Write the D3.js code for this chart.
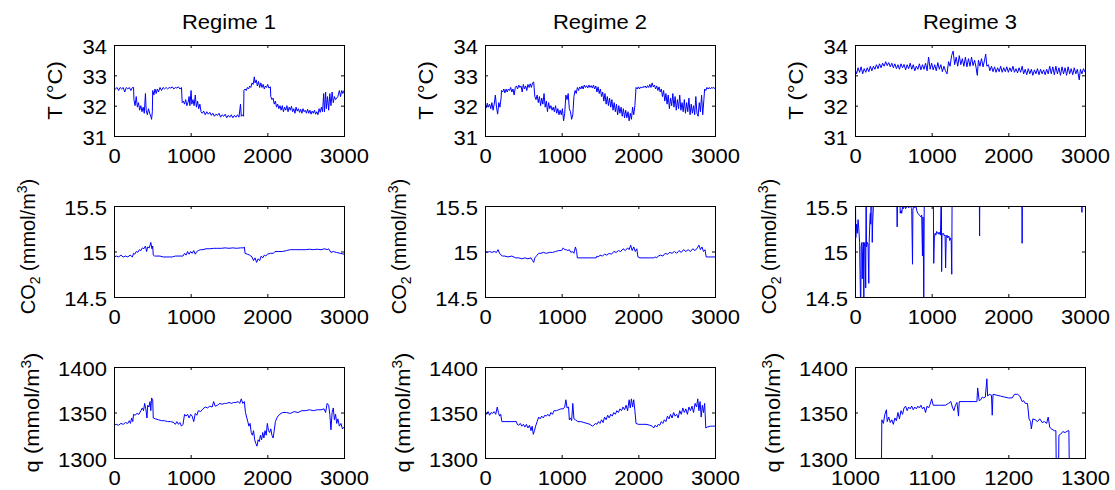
<!DOCTYPE html>
<meta charset="utf-8">
<style>
    body { margin: 0; background: #fff; }
    svg { font-family: "Liberation Sans", Arial, sans-serif; }
    .axis text { font-size: 20px; fill: #000; }
    .axis line { stroke: #000; }
    .axis path { display: none; }
    .frame { fill: none; stroke: #000; stroke-width: 1; }
    .trace { fill: none; stroke: #0000ff; stroke-width: 1; }
    .title { font-size: 20px; fill: #000; }
    .ylabel { font-size: 20px; fill: #000; }
</style>
<body>
<script src="https://cdnjs.cloudflare.com/ajax/libs/d3/7.8.5/d3.min.js"></script>
<script>

// ---- data: [sample index, value] ----
var titles = ["Regime 1", "Regime 2", "Regime 3"];

var tempR1 = [[0,32.6],[20,32.55],[40,32.6],[60,32.5],[80,32.6],[100,32.55],[120,32.6],[140,32.45],[160,32.6],[180,32.55],[200,32.6],[220,32.5],[240,32.6],[255,32.6],
    [260,32.2],[275,32.0],[290,32.3],[305,31.95],[320,32.1],[335,31.85],[350,32.0],[365,31.8],[380,31.95],[395,31.75],[410,32.4],[420,31.85],[435,31.7],[450,31.9],[465,31.75],[480,31.65],[490,31.55],[500,31.8],
    [505,32.5],[520,32.35],[535,32.55],[550,32.4],[565,32.55],[580,32.45],[600,32.6],[620,32.5],[640,32.6],[660,32.55],[680,32.6],[700,32.55],[720,32.6],[740,32.58],[760,32.62],[780,32.55],[800,32.6],[820,32.58],[840,32.62],[860,32.55],[880,32.6],
    [890,32.1],[905,32.15],[920,32.05],[935,32.2],[950,32.0],[965,32.1],[980,32.3],[990,32.0],[1005,32.5],[1015,32.05],[1030,32.2],[1045,32.0],[1060,32.35],[1075,31.95],[1090,32.15],[1105,31.9],[1120,32.05],[1135,31.8],
    [1150,31.75],[1170,31.82],[1190,31.7],[1210,31.8],[1230,31.72],[1250,31.78],[1270,31.68],[1290,31.75],[1310,31.65],[1330,31.72],[1350,31.68],[1370,31.75],[1390,31.62],[1410,31.7],[1430,31.65],[1450,31.72],[1470,31.6],[1490,31.68],[1510,31.62],[1530,31.7],[1550,31.6],[1570,31.68],[1590,31.62],[1610,31.7],[1630,31.62],[1650,32.05],[1660,31.65],[1675,31.7],[1690,31.65],
    [1695,32.5],[1710,32.55],[1725,32.5],[1740,32.6],[1755,32.55],[1770,32.65],[1785,32.6],[1800,32.75],[1815,32.7],[1830,32.95],[1840,32.75],[1855,32.85],[1870,32.65],[1885,32.8],[1900,32.6],[1915,32.75],[1930,32.6],[1945,32.7],[1960,32.55],[1975,32.65],[1990,32.6],[2005,32.7],[2020,32.58],[2040,32.62],
    [2045,32.3],[2060,32.2],[2075,32.25],[2090,32.05],[2105,32.15],[2120,31.95],[2135,32.05],[2150,31.9],[2165,32.0],[2180,31.85],[2195,32.0],[2210,31.8],[2225,31.95],[2240,31.85],[2255,32.0],[2270,31.8],[2285,31.95],[2300,31.85],[2315,31.98],[2330,31.8],[2345,31.9],[2360,31.75],[2375,31.95],[2390,31.82],[2405,31.9],[2420,31.78],[2435,31.88],[2450,31.75],[2465,31.9],[2480,31.8],[2495,31.85],[2510,31.75],[2525,31.88],[2540,31.75],[2555,31.85],[2570,31.72],[2585,31.82],[2600,31.75],[2615,31.85],[2630,31.72],[2645,31.8],[2660,31.7],[2675,31.9],[2690,31.78],
    [2705,31.95],[2720,31.8],[2735,32.4],[2745,31.8],[2760,32.45],[2770,31.9],[2785,32.3],[2800,31.85],[2815,32.4],[2830,32.0],[2845,32.45],[2860,32.1],[2875,32.3],[2890,32.2],[2905,32.25],[2920,32.3],[2940,32.5],[2955,32.3],[2970,32.5],[2985,32.4],[3000,32.5]];

var tempR2 = [[0,32.0],[15,31.92],[30,32.08],[45,31.95],[60,32.05],[75,31.9],[90,32.1],[105,31.85],[120,32.05],[135,32.35],[150,31.95],[165,31.72],[180,32.1],[195,31.95],[210,32.25],
    [215,32.5],[230,32.45],[245,32.55],[260,32.42],[275,32.55],[290,32.45],[305,32.55],[320,32.5],[335,32.6],[350,32.45],[365,32.55],[380,32.35],[395,32.6],[410,32.65],[425,32.55],[440,32.68],[455,32.6],[470,32.65],[485,32.45],[500,32.7],[515,32.55],[530,32.65],[545,32.5],[560,32.7],[575,32.6],[590,32.72],[605,32.6],[620,32.75],[635,32.78],
    [650,32.3],[665,32.2],[680,32.35],[695,32.1],[710,32.3],[725,32.0],[740,32.25],[755,32.05],[770,32.4],[785,31.95],[800,32.15],[815,31.8],[830,32.1],[845,31.9],[860,32.0],[875,31.85],[890,31.95],[905,31.8],[920,32.0],[935,31.75],[950,31.9],[965,31.7],[980,31.85],[995,31.7],[1010,31.9],[1025,31.5],[1040,31.75],
    [1055,32.35],[1070,32.2],[1085,32.4],[1100,31.9],[1115,31.8],[1130,31.55],[1145,31.7],[1160,32.3],[1175,32.5],[1190,32.4],[1205,32.6],[1220,32.5],[1235,32.62],[1250,32.55],[1265,32.65],[1280,32.55],[1295,32.68],[1310,32.6],[1325,32.66],[1340,32.58],[1355,32.68],[1370,32.6],[1385,32.66],[1400,32.58],[1415,32.68],[1430,32.55],[1445,32.65],
    [1460,32.45],[1475,32.62],[1490,32.4],[1505,32.55],[1520,32.3],[1535,32.45],[1550,32.15],[1565,32.4],[1580,32.05],[1595,32.3],[1610,32.0],[1625,32.25],[1640,31.95],[1655,32.2],[1670,31.85],[1685,32.1],[1700,31.8],[1715,32.05],[1730,31.7],[1745,32.0],[1760,31.75],[1775,31.95],[1790,31.65],[1805,31.9],[1820,31.6],[1835,31.85],[1850,31.6],[1865,31.8],[1880,31.5],[1895,31.75],[1910,31.55],[1925,31.95],[1940,31.7],[1955,32.0],
    [1970,32.6],[1985,32.55],[2000,32.62],[2015,32.55],[2030,32.62],[2045,32.58],[2060,32.63],[2075,32.6],[2090,32.65],[2105,32.58],[2120,32.66],[2135,32.6],[2150,32.7],[2165,32.6],[2180,32.75],[2195,32.62],[2210,32.68],[2225,32.55],[2240,32.65],[2255,32.5],[2270,32.62],[2285,32.45],[2300,32.55],
    [2315,32.3],[2330,32.5],[2345,32.15],[2360,32.4],[2375,32.05],[2390,32.35],[2405,31.9],[2420,32.25],[2435,32.0],[2450,32.4],[2465,31.95],[2480,32.3],[2495,31.85],[2510,32.2],[2525,31.9],[2540,32.35],[2555,31.85],[2570,32.1],[2585,31.8],[2600,32.2],[2615,31.75],[2630,32.1],[2645,31.8],[2660,32.25],[2675,31.7],[2690,32.05],[2705,31.75],[2720,32.0],[2735,31.7],[2750,32.3],[2765,31.75],[2780,31.65],[2795,32.1],[2810,31.8],[2825,32.35],[2840,31.7],[2855,32.2],
    [2865,32.55],[2880,32.5],[2895,32.6],[2910,32.55],[2925,32.6],[2940,32.55],[2955,32.6],[2970,32.58],[2985,32.6],[3000,32.55]];

var tempR3 = [[0,33.2],[20,33.05],[40,33.25],[60,33.1],[80,33.28],[100,33.05],[120,33.22],[140,33.1],[160,33.25],[180,33.12],[200,33.3],[220,33.15],[240,33.3],[260,33.2],[280,33.35],[300,33.22],[320,33.38],[340,33.25],[360,33.4],[380,33.3],[400,33.45],[420,33.32],[440,33.42],[460,33.28],[480,33.4],[500,33.25],
    [520,33.38],[540,33.22],[560,33.35],[580,33.2],[600,33.38],[620,33.25],[640,33.36],[660,33.18],[680,33.35],[700,33.22],[720,33.4],[740,33.2],[760,33.35],[780,33.15],[800,33.3],[820,33.2],[840,33.38],[860,33.18],[880,33.35],[900,33.2],[920,33.4],[940,33.15],[960,33.6],[980,33.2],[1000,33.4],
    [1020,33.18],[1040,33.35],[1060,33.15],[1080,33.42],[1100,33.2],[1120,33.35],[1140,33.12],[1160,33.3],[1180,33.15],[1200,33.05],[1220,33.45],[1240,33.3],[1260,33.65],[1280,33.8],[1300,33.35],[1320,33.6],[1340,33.3],[1360,33.65],[1380,33.35],[1400,33.55],[1420,33.3],[1440,33.6],[1460,33.28],[1480,33.55],[1500,33.3],
    [1520,33.6],[1540,33.32],[1560,33.5],[1580,33.25],[1595,33.0],[1610,33.5],[1630,33.3],[1650,33.55],[1670,33.28],[1690,33.5],[1705,33.7],[1720,33.3],[1740,33.35],[1760,33.15],[1780,33.3],[1800,33.12],[1820,33.28],[1840,33.1],[1860,33.25],[1880,33.12],[1900,33.3],[1920,33.1],[1940,33.25],[1960,33.12],[1980,33.28],
    [2000,33.1],[2020,33.25],[2040,33.12],[2060,33.3],[2080,33.1],[2100,33.22],[2120,33.08],[2140,33.25],[2160,33.1],[2180,33.3],[2200,33.05],[2220,33.2],[2240,33.02],[2260,33.22],[2280,33.05],[2300,33.2],[2320,33.0],[2340,33.18],[2360,33.05],[2380,33.22],[2400,33.02],[2420,33.2],[2440,33.05],[2460,33.18],[2480,33.02],
    [2500,33.2],[2520,33.05],[2540,33.3],[2560,33.05],[2580,33.28],[2600,33.02],[2620,33.3],[2640,33.05],[2660,33.25],[2680,33.0],[2700,33.28],[2720,33.05],[2740,33.25],[2760,33.0],[2780,33.28],[2800,33.05],[2820,33.22],[2840,33.02],[2860,33.25],[2880,33.05],[2900,33.2],[2925,32.85],[2940,33.2],[2960,33.05],[2980,33.22],[3000,33.1]];

var co2R1 = [[0,14.94],[30,14.95],[60,14.94],[90,14.96],[120,14.94],[150,14.95],[180,14.94],[210,14.96],[240,14.94],[255,14.98],[270,14.97],[290,15.0],[310,14.99],[330,15.02],[350,15.01],[370,15.04],[390,15.03],[410,15.06],[425,15.0],[440,15.05],[460,15.04],[480,15.1],[495,15.03],[505,15.06],[512,14.96],
    [530,14.95],[560,14.95],[600,14.95],[640,14.94],[680,14.94],[720,14.94],[760,14.94],[800,14.95],[850,14.95],[900,14.95],[920,14.98],[940,14.96],[960,15.0],[980,14.97],[1000,15.0],[1020,14.98],[1040,15.01],[1060,14.97],[1080,15.0],[1100,15.01],[1130,15.02],[1160,15.02],[1200,15.03],[1250,15.03],
    [1300,15.035],[1350,15.035],[1400,15.035],[1450,15.04],[1500,15.035],[1550,15.04],[1600,15.035],[1650,15.04],[1690,15.04],[1700,15.05],[1710,14.98],[1740,14.97],[1770,14.96],[1800,14.94],[1820,14.9],[1840,14.93],[1860,14.88],[1880,14.92],[1900,14.9],[1920,14.95],[1940,14.93],[1960,14.96],[1980,14.95],
    [2000,14.97],[2040,14.98],[2080,14.98],[2100,15.0],[2150,15.0],[2200,15.0],[2250,15.01],[2300,15.02],[2350,15.02],[2400,15.02],[2450,15.02],[2500,15.02],[2550,15.025],[2600,15.02],[2650,15.025],[2700,15.02],[2750,15.03],[2780,15.02],[2800,15.03],[2830,14.99],[2860,15.0],[2900,14.99],[2950,14.98],[3000,14.97]];

var co2R2 = [[0,15.0],[30,14.99],[60,15.0],[90,14.99],[120,15.0],[150,14.99],[170,15.02],[190,14.98],[210,14.96],[230,14.95],[260,14.95],[300,14.94],[350,14.95],[400,14.93],[440,14.93],[480,14.92],[520,14.93],[560,14.92],[600,14.93],[620,14.9],[635,14.88],[650,14.93],[680,14.96],[700,14.98],
    [730,14.98],[760,14.99],[800,14.98],[840,14.99],[880,14.99],[920,15.0],[960,15.01],[1000,15.01],[1020,15.04],[1040,15.02],[1060,15.02],[1080,15.01],[1100,15.02],[1120,14.99],[1140,15.0],[1160,14.98],[1180,15.05],[1195,15.0],[1205,14.93],
    [1280,14.93],[1330,14.93],[1380,14.93],[1420,14.93],[1450,14.93],[1460,14.95],[1480,14.94],[1500,14.96],[1530,14.95],[1560,14.97],[1590,14.96],[1620,14.98],[1650,14.97],[1680,15.0],[1710,14.99],[1740,15.01],[1770,15.0],[1800,15.03],[1830,15.01],[1860,15.04],[1880,15.02],[1900,15.07],[1920,15.01],[1940,15.05],[1960,15.0],[1980,15.03],
    [1995,14.94],[2020,14.93],[2060,14.93],[2100,14.93],[2150,14.93],[2200,14.93],[2220,14.94],[2240,14.93],[2260,14.95],[2290,14.96],[2320,14.95],[2350,14.98],[2380,14.97],[2410,14.99],[2440,14.98],[2470,15.0],[2500,14.98],[2530,15.01],[2560,14.99],[2590,15.02],[2620,15.0],[2650,15.02],[2680,15.0],[2710,15.03],[2740,15.01],[2770,15.04],[2790,15.07],[2810,15.02],[2830,15.05],[2850,15.0],[2870,15.02],
    [2885,14.94],[2920,14.94],[2960,14.94],[3000,14.94]];

var co2R3 = [[0,14.3],[5,15.8],[10,15.15],[20,15.3],[30,15.2],[40,15.35],[50,15.25],[60,15.1],[65,14.8],[75,14.3],[80,15.05],[90,15.1],[95,14.7],[100,15.0],[110,15.1],[115,14.3],[120,15.05],[130,15.1],[140,14.6],[145,15.8],[150,15.05],[160,15.1],[170,15.08],[180,14.65],[185,15.1],[195,15.35],[200,15.42],[205,15.3],[210,15.8],[220,15.45],[225,15.1],[230,15.3],[240,15.5],[250,15.9],
    [540,15.9],[550,15.27],[560,15.9],[580,15.9],[590,15.42],[600,15.45],[610,15.42],[620,15.5],[630,15.47],[640,15.49],[650,15.5],[660,15.47],[680,15.5],[700,15.48],[720,15.5],[740,15.47],[750,14.86],[755,15.45],[765,15.52],[780,15.48],[795,15.5],[805,15.45],[820,15.42],[840,15.4],[860,15.38],[870,15.4],[880,14.95],[885,15.38],[890,15.37],[897,14.3],[905,15.9],
    [1010,15.9],[1015,15.5],[1020,15.9],[1027,14.87],[1035,15.15],[1045,15.2],[1055,15.18],[1065,15.22],[1075,15.2],[1085,15.21],[1095,15.19],[1105,15.21],[1115,15.18],[1127,15.8],[1130,14.78],[1135,15.2],[1145,15.19],[1155,15.2],[1165,15.17],[1175,15.18],[1182,14.82],[1190,15.16],[1200,15.18],[1210,15.15],[1225,15.17],[1235,15.12],[1245,15.15],[1255,15.12],[1262,14.75],[1268,15.9],
    [1620,15.9],[1625,15.17],[1630,15.9],[2175,15.9],[2180,15.09],[2185,15.9],[2955,15.9],[2960,15.43],[2965,15.9],[3000,15.9]];

var qR1 = [[0,1336],[30,1337],[60,1336],[90,1338],[120,1337],[150,1339],[180,1338],[200,1341],[215,1338],[230,1344],[245,1340],[255,1348],[275,1347],[300,1349],[325,1348],[350,1352],[370,1355],[385,1352],[400,1360],[415,1354],[430,1344],[440,1358],[455,1356],[470,1362],[480,1352],[490,1366],[505,1364],
    [512,1344],[540,1343],[580,1342],[620,1341],[660,1341],[700,1340],[740,1340],[780,1339],[800,1337],[820,1340],[840,1337],[860,1339],[880,1335],[900,1337],[920,1348],[940,1346],[960,1348],[980,1344],[1000,1348],[1020,1346],[1040,1340],[1060,1349],[1080,1347],[1100,1352],[1130,1351],[1160,1354],[1190,1356],[1220,1355],[1250,1357],[1280,1356],[1300,1362],[1320,1357],
    [1350,1358],[1380,1360],[1410,1359],[1440,1360],[1470,1360],[1500,1361],[1530,1360],[1560,1361],[1590,1361],[1620,1362],[1640,1360],[1660,1365],[1680,1360],[1700,1362],[1715,1350],[1730,1345],[1745,1340],[1760,1335],[1775,1338],[1790,1328],[1805,1325],[1820,1330],[1835,1320],[1850,1316],[1865,1313],[1880,1320],[1895,1318],[1910,1325],[1925,1320],[1940,1328],[1955,1322],[1970,1330],[1985,1325],
    [2000,1338],[2015,1330],[2030,1328],[2045,1332],[2060,1325],[2075,1322],[2090,1330],[2105,1340],[2130,1345],[2160,1348],[2200,1350],[2250,1350],[2300,1349],[2350,1351],[2400,1350],[2450,1352],[2500,1352],[2550,1353],[2600,1352],[2650,1353],[2700,1353],[2740,1354],[2760,1350],[2780,1360],[2800,1358],[2815,1348],[2830,1331],[2845,1350],[2860,1355],[2875,1342],[2890,1348],[2905,1338],[2920,1343],[2940,1335],[2960,1338],[2980,1332],[3000,1334]];

var qR2 = [[0,1350],[20,1348],[40,1351],[60,1347],[80,1350],[100,1349],[120,1351],[140,1348],[160,1356],[175,1350],[190,1346],[205,1348],[220,1340],[260,1340],[300,1340],[340,1340],[380,1340],[410,1340],[420,1337],[440,1336],[460,1338],[480,1335],[500,1337],[520,1334],[540,1337],[560,1333],[580,1336],[600,1330],[615,1335],[630,1326],[645,1330],[660,1335],[680,1340],[700,1345],
    [720,1343],[740,1346],[760,1344],[780,1347],[800,1346],[820,1348],[840,1346],[860,1350],[880,1348],[900,1352],[930,1352],[960,1353],[990,1354],[1020,1354],[1040,1356],[1055,1364],[1070,1355],[1090,1356],[1100,1342],[1115,1344],[1130,1341],[1145,1360],[1160,1343],[1180,1342],[1210,1340],[1250,1340],[1290,1339],[1330,1338],[1370,1337],[1400,1335],
    [1420,1336],[1440,1338],[1460,1337],[1480,1340],[1500,1338],[1520,1342],[1540,1339],[1560,1345],[1580,1342],[1600,1347],[1620,1344],[1640,1348],[1660,1346],[1680,1350],[1700,1348],[1720,1352],[1740,1350],[1760,1354],[1780,1352],[1800,1356],[1820,1353],[1840,1358],[1860,1352],[1880,1364],[1895,1355],[1910,1365],[1925,1356],[1940,1364],[1955,1352],
    [1970,1338],[2000,1337],[2050,1337],[2100,1337],[2150,1336],[2180,1335],[2200,1333],[2220,1336],[2240,1334],[2260,1337],[2280,1336],[2300,1340],[2320,1338],[2340,1342],[2360,1340],[2380,1346],[2400,1343],[2420,1348],[2440,1344],[2460,1350],[2480,1346],[2500,1348],[2520,1344],[2540,1352],[2560,1348],[2580,1355],[2600,1350],[2620,1354],[2640,1348],[2660,1356],[2680,1352],[2700,1357],[2720,1350],[2740,1360],[2760,1356],[2775,1365],[2790,1352],[2805,1362],[2820,1345],[2835,1358],[2850,1350],[2865,1360],
    [2880,1333],[2900,1334],[2940,1335],[2970,1335],[3000,1335]];

var qR3 = [[1034,1250],[1035,1342],[1037,1338],[1039,1348],[1041,1353],[1042,1340],[1044,1345],[1046,1339],[1048,1342],[1050,1337],[1052,1344],[1054,1341],[1056,1350],[1058,1343],[1060,1352],[1062,1348],[1064,1355],[1066,1357],[1068,1352],[1070,1356],[1072,1354],[1074,1357],[1076,1353],[1078,1356],[1080,1354],[1082,1357],[1084,1355],[1086,1358],[1088,1354],[1090,1356],[1092,1350],[1094,1357],[1096,1355],[1098,1359],
    [1100,1365],[1102,1358],[1110,1358],[1118,1358],[1122,1360],[1125,1362],[1127,1356],[1129,1352],[1131,1358],[1133,1361],[1135,1346],[1136,1362],[1145,1362],[1155,1362],[1159,1362],[1160,1377],[1162,1363],[1164,1364],[1166,1367],[1168,1366],[1170,1367],[1172,1387],[1173,1368],[1175,1370],[1178,1369],[1179,1347],[1180,1370],[1185,1369],[1190,1368],[1195,1367],[1200,1366],[1205,1366],[1208,1370],[1212,1370],[1215,1368],[1218,1362],
    [1220,1363],[1222,1360],[1225,1360],[1227,1343],[1229,1340],[1230,1332],[1232,1343],[1235,1342],[1238,1340],[1241,1343],[1244,1339],[1247,1340],[1250,1338],[1252,1345],[1254,1334],[1256,1332],[1260,1330],[1262,1330],[1263,1250],[1265,1250],[1266,1325],[1268,1326],[1271,1329],[1274,1328],[1278,1330],[1279,1330],[1280,1250]];

var xTicksFull = [0, 1000, 2000, 3000];
var xTicksZoom = [1000, 1100, 1200, 1300];
var tTicks = [31, 32, 33, 34];
var co2Ticks = [14.5, 15, 15.5];
var qTicks = [1300, 1350, 1400];

// ---- layout ----
var colLeft = [114, 485, 855],
    rowTop = [45, 206, 367],
    w = 230,
    h = 91,
    stretch = "scale(1.1,1)";   // the figure's lettering is drawn a little wide

var rows = [
    {ticks: tTicks, domain: [31, 34], series: [tempR1, tempR2, tempR3], label: "T", labelX: 62, labelDy: 0, labelScale: stretch},
    {ticks: co2Ticks, domain: [14.5, 15.5], series: [co2R1, co2R2, co2R3], label: "CO2", labelX: 35, labelDy: -5, labelScale: ""},
    {ticks: qTicks, domain: [1300, 1400], series: [qR1, qR2, qR3], label: "q", labelX: 39, labelDy: 0, labelScale: stretch}
];

var svg = d3.select("body").append("svg")
        .attr("width", 1115)
        .attr("height", 490);

var defs = svg.append("defs");

rows.forEach(function(row, ri) {
    row.series.forEach(function(data, ci) {
        var xt = (ri === 2 && ci === 2) ? xTicksZoom : xTicksFull;
        var x = d3.scaleLinear().domain([xt[0], xt[xt.length - 1]]).range([0, w]);
        var y = d3.scaleLinear().domain(row.domain).range([h, 0]);

        var g = svg.append("g")
                .attr("transform", "translate(" + colLeft[ci] + "," + rowTop[ri] + ")");

        var clipId = "clip" + ri + ci;
        defs.append("clipPath")
                .attr("id", clipId)
                .append("rect")
                .attr("width", w + 1)
                .attr("height", h + 1);

        var line = d3.line()
                .x(function(d) { return x(d[0]); })
                .y(function(d) { return y(d[1]); });

        g.append("path")
                .datum(data)
                .attr("class", "trace")
                .attr("clip-path", "url(#" + clipId + ")")
                .attr("d", line);

        // axes: ticks point inward on all four sides
        g.append("g").attr("class", "axis")
                .attr("transform", "translate(0," + h + ")")
                .call(d3.axisBottom(x).tickValues(xt).tickSizeInner(-3).tickSizeOuter(0).tickPadding(13).tickFormat(d3.format("d")))
                .selectAll("text").attr("transform", stretch);
        g.append("g").attr("class", "axis")
                .call(d3.axisTop(x).tickValues(xt).tickSizeInner(-3).tickSizeOuter(0).tickFormat(""));
        g.append("g").attr("class", "axis")
                .call(d3.axisLeft(y).tickValues(row.ticks).tickSizeInner(-3).tickSizeOuter(0).tickFormat(function(v) { return String(v); }))
                .selectAll("text")
                .attr("x", 0)
                .attr("dy", "0.40em")
                .attr("transform", "translate(-7,0) " + stretch);
        g.append("g").attr("class", "axis")
                .attr("transform", "translate(" + w + ",0)")
                .call(d3.axisRight(y).tickValues(row.ticks).tickSizeInner(-3).tickSizeOuter(0).tickFormat(""));

        g.append("rect")
                .attr("class", "frame")
                .attr("x", 0.5)
                .attr("y", 0.5)
                .attr("width", w)
                .attr("height", h);

        if (ri === 0) {
            g.append("text")
                    .attr("class", "title")
                    .attr("text-anchor", "middle")
                    .attr("transform", "translate(" + (w / 2) + ",-16) " + stretch)
                    .text(titles[ci]);
        }

        // y label, rotated, with sub/superscripts where needed
        var lab = g.append("text")
                .attr("class", "ylabel")
                .attr("text-anchor", "middle")
                .attr("transform", "translate(" + (row.labelX - colLeft[0]) + "," + (h / 2 + row.labelDy) + ") rotate(-90) " + row.labelScale);
        if (row.label === "T") {
            lab.text("T (\u00B0C)");
        } else {
            if (row.label === "CO2") {
                lab.append("tspan").text("CO");
                lab.append("tspan").attr("dy", 5).attr("font-size", 14).text("2");
                lab.append("tspan").attr("dy", -5).text(" (mmol/m");
            } else {
                lab.append("tspan").text("q (mmol/m");
            }
            lab.append("tspan").attr("dy", -8).attr("font-size", 14).text("3");
            lab.append("tspan").attr("dy", 8).text(")");
        }
    });
});

</script>
